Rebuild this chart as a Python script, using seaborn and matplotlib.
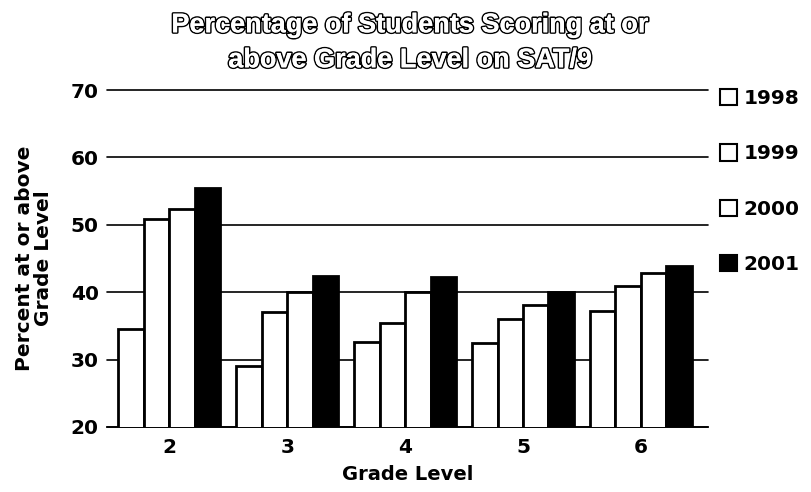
import matplotlib
matplotlib.use("Agg")
import matplotlib.pyplot as plt
import matplotlib.patheffects as pe
import seaborn as sns
import pandas as pd

grades = ["2", "3", "4", "5", "6"]
years = ["1998", "1999", "2000", "2001"]
v1998 = [34.5, 29.1, 32.6, 32.4, 37.2]
v1999 = [50.9, 37.1, 35.5, 36.0, 40.9]
v2000 = [52.4, 40.0, 40.0, 38.1, 42.8]
v2001 = [55.5, 42.4, 42.3, 40.0, 43.9]
yticks = [20, 30, 40, 50, 60, 70]

rows = []
for y, vals in zip(years, [v1998, v1999, v2000, v2001]):
    for g, v in zip(grades, vals):
        rows.append({"Grade": g, "Year": y, "Value": v})
df = pd.DataFrame(rows)

sns.set_theme(style="white")
plt.rcParams['font.family'] = ['DejaVu Sans']
plt.rcParams['text.color'] = 'black'
plt.rcParams['axes.labelcolor'] = 'black'
plt.rcParams['xtick.color'] = 'black'
plt.rcParams['ytick.color'] = 'black'

fig = plt.figure(figsize=(8.12, 4.92), dpi=100)
ax = fig.add_axes([107/812, 1 - 427/492, (708-107)/812, (427-90)/492])

palette = {"1998": "white", "1999": "white", "2000": "white", "2001": "black"}
sns.barplot(data=df, x="Grade", y="Value", hue="Year", palette=palette,
            edgecolor="black", linewidth=2, width=0.865, ax=ax, zorder=3,
            legend=True)

ax.set_ylim(20, 70)
ax.set_xlim(-0.53, 4.57)
ax.set_yticks(yticks)
ax.yaxis.grid(True, color="black", linewidth=1.2, zorder=0)
ax.set_axisbelow(True)
for gl in ax.get_ygridlines():
    gl.set_clip_on(False)
for s in ["left", "right", "top"]:
    ax.spines[s].set_visible(False)
ax.spines["bottom"].set_color("black")
ax.spines["bottom"].set_linewidth(1.2)
ax.tick_params(axis="both", length=0, labelsize=14.5, colors="black")
ax.tick_params(axis="y", pad=6)
ax.tick_params(axis="x", pad=8)
for lab in ax.get_xticklabels() + ax.get_yticklabels():
    lab.set_fontweight("heavy")
ax.set_xlabel("Grade Level", fontsize=14, fontweight="heavy", labelpad=6)
ax.set_ylabel("Percent at or above\nGrade Level", fontsize=14.5, fontweight="heavy",
              labelpad=13, linespacing=0.95)

handles, labels = ax.get_legend_handles_labels()
ax.get_legend().remove()
leg = fig.legend(handles, labels, loc="upper left", bbox_to_anchor=(0.877, 0.835),
                 frameon=False, prop={"size": 14.5, "weight": "heavy"},
                 labelspacing=1.8, handlelength=0.85, handleheight=0.85,
                 handletextpad=0.3, borderaxespad=0)
for h in leg.legend_handles:
    h.set_linewidth(1.5)

fig.text(0.505, 0.975, "Percentage of Students Scoring at or\nabove Grade Level on SAT/9",
         ha="center", va="top", fontsize=19.5, fontweight="bold", color="white",
         linespacing=1.45, family=["Liberation Sans", "DejaVu Sans"],
         path_effects=[pe.withStroke(linewidth=2.2, foreground="black"), pe.Normal()])

fig.savefig("out.png", dpi=100)
